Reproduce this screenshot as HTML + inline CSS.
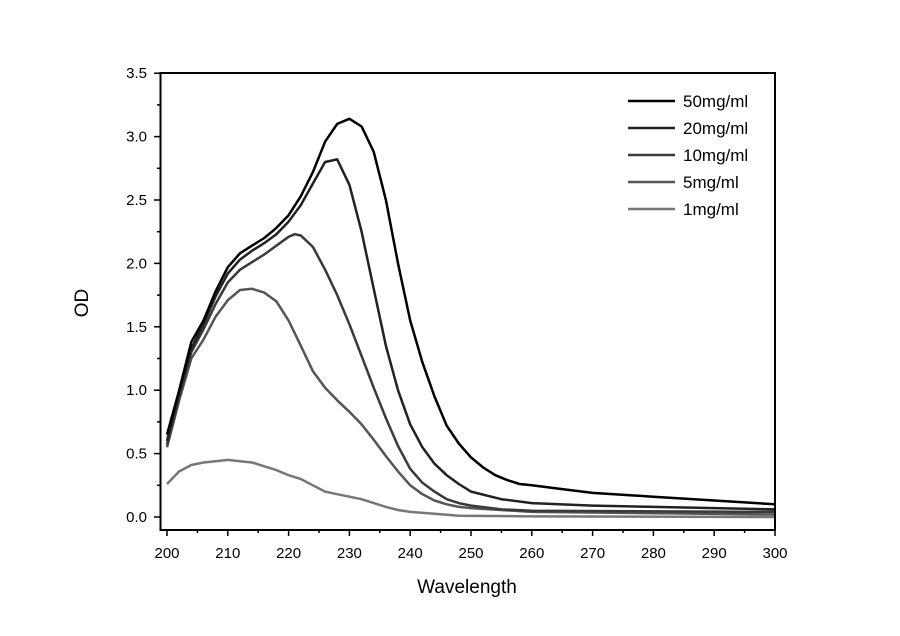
<!DOCTYPE html>
<html><head><meta charset="utf-8"><style>
html,body{margin:0;padding:0;background:#fff}
svg{display:block;font-family:"Liberation Sans",Arial,sans-serif}
</style></head><body>
<svg id="s" width="900" height="636" xmlns="http://www.w3.org/2000/svg">
<rect width="900" height="636" fill="#fff"/>
<g id="ser" fill="none" stroke-width="2.5" stroke-linejoin="round"></g>
<rect x="160.5" y="73" width="614.5" height="457" fill="none" stroke="#000" stroke-width="2"/>
<g id="ax" stroke="#000" stroke-width="1.5"></g>
<g id="lab" font-size="15" fill="#000"></g>
<text x="467" y="593" font-size="19" text-anchor="middle">Wavelength</text>
<text transform="translate(88,303) rotate(-90)" font-size="19" text-anchor="middle">OD</text>
<g id="leg" font-size="17"></g>
</svg>
<script>
var NS="http://www.w3.org/2000/svg";
function X(w){return 167+(w-200)*6.08}
function Y(v){return 517-v*126.8}
function el(p,t,a,txt){var e=document.createElementNS(NS,t);for(var k in a)e.setAttribute(k,a[k]);if(txt!=null)e.textContent=txt;p.appendChild(e);return e}
var ax=document.getElementById('ax'),lab=document.getElementById('lab');
for(var w=200;w<=300;w+=5){var maj=w%10==0;el(ax,'line',{x1:X(w),x2:X(w),y1:530,y2:maj?536:533});if(maj)el(lab,'text',{x:X(w),y:558,'text-anchor':'middle'},w)}
for(var i=0;i<=14;i++){var v=i*0.25,maj=i%2==0;el(ax,'line',{x1:160,x2:maj?154:157,y1:Y(v),y2:Y(v)});if(maj)el(lab,'text',{x:147,y:Y(v)+5,'text-anchor':'end'},v.toFixed(1))}
var S=[
["50mg/ml","#000",[[200,0.65],[202,1.0],[204,1.38],[206,1.55],[208,1.78],[210,1.97],[212,2.08],[214,2.14],[216,2.2],[218,2.28],[220,2.38],[222,2.53],[224,2.72],[226,2.96],[228,3.1],[230,3.14],[232,3.08],[234,2.88],[236,2.5],[238,2.0],[240,1.55],[242,1.22],[244,0.95],[246,0.72],[248,0.58],[250,0.47],[252,0.39],[254,0.33],[256,0.29],[258,0.26],[260,0.25],[265,0.22],[270,0.19],[280,0.16],[290,0.13],[300,0.1]]],
["20mg/ml","#222",[[200,0.6],[202,0.98],[204,1.33],[206,1.52],[208,1.74],[210,1.92],[212,2.03],[214,2.1],[216,2.16],[218,2.23],[220,2.33],[222,2.46],[224,2.63],[226,2.8],[228,2.82],[230,2.62],[232,2.25],[234,1.8],[236,1.35],[238,1.0],[240,0.73],[242,0.55],[244,0.42],[246,0.33],[248,0.26],[250,0.2],[255,0.14],[260,0.11],[270,0.09],[280,0.08],[300,0.06]]],
["10mg/ml","#3a3a3a",[[200,0.57],[202,0.95],[204,1.3],[206,1.48],[208,1.68],[210,1.85],[212,1.95],[214,2.01],[216,2.07],[218,2.14],[220,2.21],[221,2.23],[222,2.22],[224,2.13],[226,1.95],[228,1.75],[230,1.52],[232,1.27],[234,1.02],[236,0.78],[238,0.56],[240,0.38],[242,0.27],[244,0.2],[246,0.14],[248,0.11],[250,0.09],[255,0.06],[260,0.05],[300,0.04]]],
["5mg/ml","#555",[[200,0.55],[202,0.92],[204,1.25],[206,1.4],[208,1.58],[210,1.71],[212,1.79],[214,1.8],[216,1.77],[218,1.7],[220,1.55],[222,1.35],[224,1.15],[226,1.02],[228,0.92],[230,0.83],[232,0.73],[234,0.61],[236,0.48],[238,0.36],[240,0.25],[242,0.18],[244,0.13],[246,0.1],[248,0.08],[250,0.07],[260,0.04],[300,0.02]]],
["1mg/ml","#777",[[200,0.26],[202,0.36],[204,0.41],[206,0.43],[208,0.44],[210,0.45],[212,0.44],[214,0.43],[216,0.4],[218,0.37],[220,0.33],[222,0.3],[224,0.25],[226,0.2],[228,0.18],[230,0.16],[232,0.14],[234,0.11],[236,0.08],[238,0.055],[240,0.04],[244,0.025],[248,0.01],[260,0.005],[300,0]]]
];
var ser=document.getElementById('ser'),leg=document.getElementById('leg');
S.slice().reverse().forEach(function(s){el(ser,'polyline',{stroke:s[1],points:s[2].map(function(p){return X(p[0]).toFixed(1)+','+Y(p[1]).toFixed(1)}).join(' ')})});
S.forEach(function(s,i){var y=101+i*27;el(leg,'line',{x1:628,x2:675,y1:y,y2:y,stroke:s[1],'stroke-width':2.5});el(leg,'text',{x:683,y:y+6},s[0])});
</script>
</body></html>
